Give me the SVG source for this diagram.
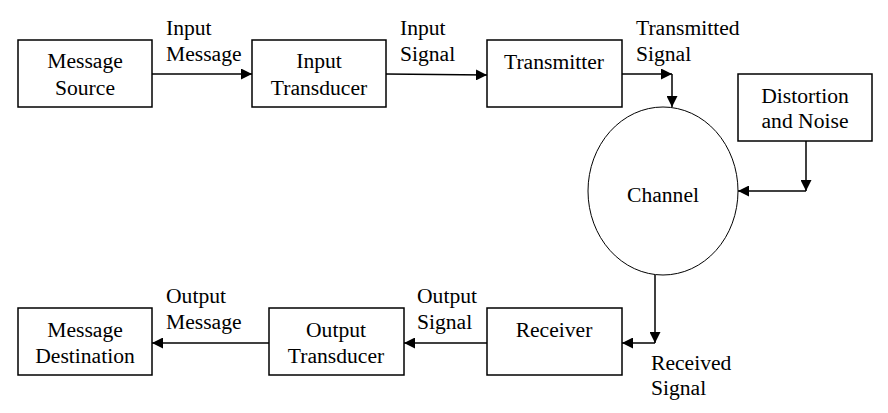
<svg xmlns="http://www.w3.org/2000/svg" width="888" height="413" viewBox="0 0 888 413">
<defs>
<marker id="ah" viewBox="0 0 10 10" refX="10" refY="5" markerWidth="11" markerHeight="11" markerUnits="userSpaceOnUse" orient="auto">
<path d="M0,0 L10,5 L0,10 Z" fill="#000"/>
</marker>
</defs>
<style>
text{font-family:"Liberation Serif","Times New Roman",serif;font-size:21.6px;fill:#000}
.c{text-anchor:middle}
.box{fill:#fff;stroke:#000;stroke-width:1.5}
.ell{fill:#fff;stroke:#000;stroke-width:1}
.ln{fill:none;stroke:#000;stroke-width:1.5}
.ar{fill:none;stroke:#000;stroke-width:1.5;marker-end:url(#ah)}
</style>
<rect width="888" height="413" fill="#fff"/>
<g id="connectors">
<line class="ar" x1="152" y1="74" x2="252" y2="74"/>
<line class="ar" x1="386" y1="74" x2="487" y2="75"/>
<line class="ar" x1="622" y1="74" x2="672" y2="74"/>
<line class="ar" x1="672" y1="74" x2="672" y2="107"/>
<line class="ar" x1="806" y1="141" x2="806" y2="191"/>
<line class="ar" x1="806" y1="191" x2="738" y2="191"/>
<line class="ar" x1="655" y1="275" x2="655" y2="343"/>
<line class="ar" x1="655" y1="343" x2="622" y2="343"/>
<line class="ar" x1="487" y1="343" x2="404" y2="343"/>
<line class="ar" x1="269" y1="343" x2="152" y2="343"/>
<text x="166" y="35">Input</text>
<text x="166" y="61">Message</text>
<text x="400" y="35">Input</text>
<text x="400" y="61">Signal</text>
<text x="636" y="35">Transmitted</text>
<text x="636" y="61">Signal</text>
<text x="651" y="370">Received</text>
<text x="651" y="395">Signal</text>
<text x="417" y="303">Output</text>
<text x="417" y="329">Signal</text>
<text x="166" y="303">Output</text>
<text x="166" y="329">Message</text>
</g>
<g id="message-source">
<rect class="box" x="18" y="40" width="134" height="67"/>
<text class="c" x="85" y="68">Message</text>
<text class="c" x="85" y="95">Source</text>
</g>
<g id="input-transducer">
<rect class="box" x="252" y="40" width="134" height="67"/>
<text class="c" x="319" y="68">Input</text>
<text class="c" x="319" y="95">Transducer</text>
</g>
<g id="transmitter">
<rect class="box" x="487" y="40" width="135" height="67"/>
<text class="c" x="554" y="69">Transmitter</text>
</g>
<g id="distortion-noise">
<rect class="box" x="738" y="74" width="134" height="67"/>
<text class="c" x="805" y="103">Distortion</text>
<text class="c" x="805" y="128">and Noise</text>
</g>
<g id="channel">
<ellipse class="ell" cx="663" cy="191" rx="75" ry="84"/>
<text class="c" x="663" y="202">Channel</text>
</g>
<g id="receiver">
<rect class="box" x="487" y="308" width="135" height="67"/>
<text class="c" x="554" y="337">Receiver</text>
</g>
<g id="output-transducer">
<rect class="box" x="269" y="308" width="135" height="67"/>
<text class="c" x="336" y="337">Output</text>
<text class="c" x="336" y="363">Transducer</text>
</g>
<g id="message-destination">
<rect class="box" x="18" y="308" width="134" height="67"/>
<text class="c" x="85" y="337">Message</text>
<text class="c" x="85" y="363">Destination</text>
</g>
</svg>
